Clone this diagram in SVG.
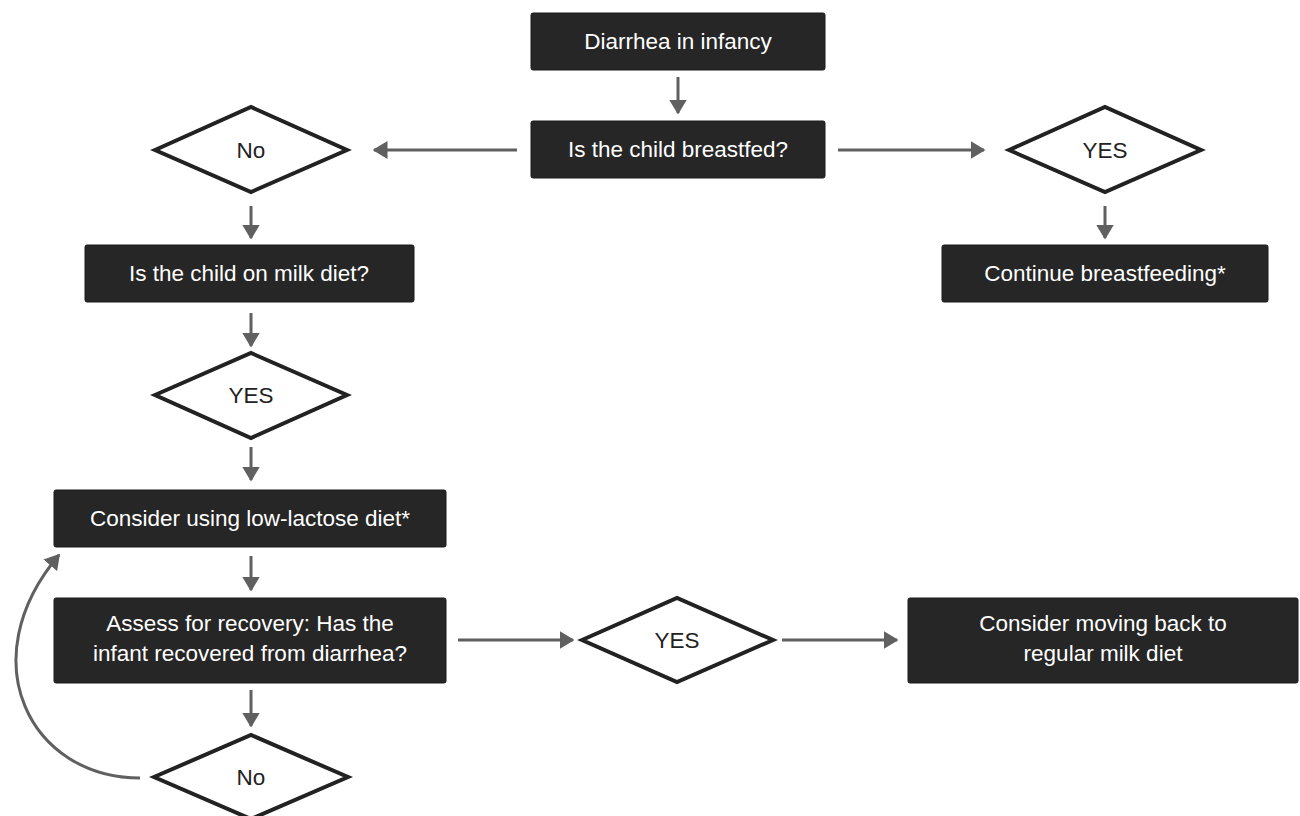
<svg xmlns="http://www.w3.org/2000/svg" width="1300" height="816" viewBox="0 0 1300 816">
<defs>
<style>
.box{fill:#262626;stroke:#1a1a1a;stroke-width:1}
.dia{fill:#fff;stroke:#222;stroke-width:4;stroke-linejoin:miter}
.bt{fill:#fff;font-family:"Liberation Sans",Arial,sans-serif;font-size:22.5px;text-anchor:middle}
.dt{fill:#222;font-family:"Liberation Sans",Arial,sans-serif;font-size:22.5px;text-anchor:middle}
.conn{stroke:#606060;stroke-width:3;fill:none;marker-end:url(#ah)}
</style>
<marker id="ah" viewBox="0 0 10 12" refX="9" refY="6" markerWidth="5" markerHeight="6" orient="auto" markerUnits="strokeWidth">
<path d="M0,0 L10,6 L0,12 z" fill="#606060"/>
</marker>
</defs>
<rect width="1300" height="816" fill="#fff"/>
<g id="connectors">
<line class="conn" x1="678" y1="77" x2="678" y2="113"/>
<line class="conn" x1="517" y1="150" x2="374" y2="150"/>
<line class="conn" x1="838" y1="150" x2="984" y2="150"/>
<line class="conn" x1="251" y1="206" x2="251" y2="238"/>
<line class="conn" x1="1105" y1="206" x2="1105" y2="238"/>
<line class="conn" x1="251" y1="313" x2="251" y2="346"/>
<line class="conn" x1="251" y1="447" x2="251" y2="480"/>
<line class="conn" x1="251" y1="556" x2="251" y2="590"/>
<line class="conn" x1="251" y1="690" x2="251" y2="726"/>
<line class="conn" x1="458" y1="640" x2="573" y2="640"/>
<line class="conn" x1="782" y1="640" x2="897" y2="640"/>
<path class="conn" d="M140,778 C30,778 -30,660 59,555"/>
</g>
<g id="n1"><rect class="box" x="531" y="13" width="294" height="57" rx="2"/><text class="bt" x="678" y="49">Diarrhea in infancy</text></g>
<g id="n2"><rect class="box" x="531" y="121" width="294" height="57" rx="2"/><text class="bt" x="678" y="157">Is the child breastfed?</text></g>
<g id="d1"><polygon class="dia" points="155,150 251,107 347,150 251,192"/><text class="dt" x="251" y="158">No</text></g>
<g id="d2"><polygon class="dia" points="1009,150 1105,107 1201,150 1105,192"/><text class="dt" x="1105" y="158">YES</text></g>
<g id="n3"><rect class="box" x="85" y="245" width="329" height="57" rx="2"/><text class="bt" x="249" y="281">Is the child on milk diet?</text></g>
<g id="n4"><rect class="box" x="942" y="245" width="326" height="57" rx="2"/><text class="bt" x="1105" y="281">Continue breastfeeding*</text></g>
<g id="d3"><polygon class="dia" points="155,395 251,353 347,395 251,438"/><text class="dt" x="251" y="403">YES</text></g>
<g id="n5"><rect class="box" x="54" y="490" width="392" height="57" rx="2"/><text class="bt" x="250" y="526">Consider using low-lactose diet*</text></g>
<g id="n6"><rect class="box" x="54" y="598" width="392" height="85" rx="2"/><text class="bt" x="250" y="631">Assess for recovery: Has the</text><text class="bt" x="250" y="661">infant recovered from diarrhea?</text></g>
<g id="d4"><polygon class="dia" points="582,640 677,598 773,640 677,682"/><text class="dt" x="677" y="648">YES</text></g>
<g id="n7"><rect class="box" x="908" y="598" width="390" height="85" rx="2"/><text class="bt" x="1103" y="631">Consider moving back to</text><text class="bt" x="1103" y="661">regular milk diet</text></g>
<g id="d5"><polygon class="dia" points="154,777 251,735 348,777 251,819"/><text class="dt" x="251" y="785">No</text></g>
</svg>
